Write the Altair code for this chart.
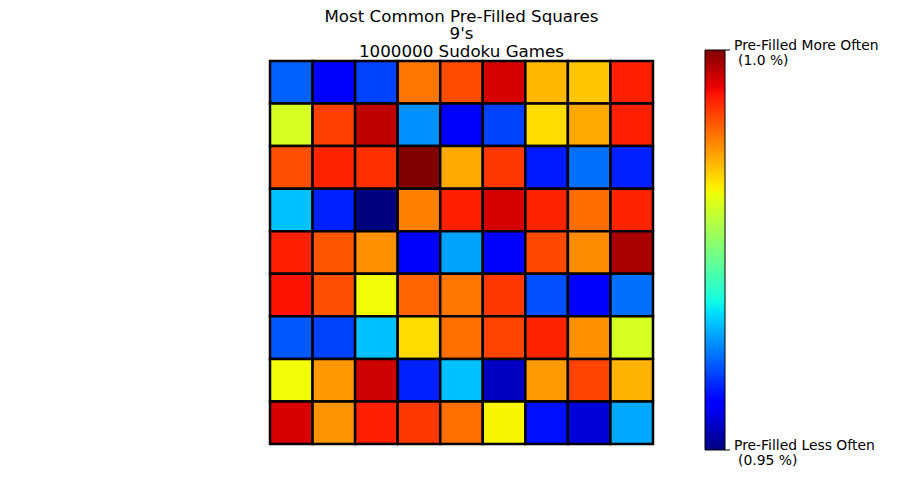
import altair as alt
import pandas as pd
import numpy as np

# Grid values (% of games where a 9 is pre-filled in that square)
row0 = [0.9610, 0.9560, 0.9595, 0.9892, 0.9915, 0.9963, 0.9858, 0.9850, 0.9938]
row1 = [0.9805, 0.9921, 0.9973, 0.9633, 0.9560, 0.9595, 0.9839, 0.9866, 0.9938]
row2 = [0.9913, 0.9936, 0.9930, 1.0000, 0.9866, 0.9926, 0.9575, 0.9618, 0.9578]
row3 = [0.9657, 0.9578, 0.9500, 0.9888, 0.9938, 0.9963, 0.9936, 0.9898, 0.9936]
row4 = [0.9938, 0.9909, 0.9879, 0.9560, 0.9643, 0.9562, 0.9917, 0.9881, 0.9982]
row5 = [0.9945, 0.9913, 0.9821, 0.9902, 0.9892, 0.9926, 0.9602, 0.9560, 0.9618]
row6 = [0.9606, 0.9595, 0.9657, 0.9839, 0.9896, 0.9919, 0.9936, 0.9879, 0.9805]
row7 = [0.9821, 0.9874, 0.9966, 0.9578, 0.9657, 0.9528, 0.9873, 0.9919, 0.9860]
row8 = [0.9962, 0.9877, 0.9938, 0.9926, 0.9896, 0.9825, 0.9570, 0.9539, 0.9645]
grid = [row0, row1, row2, row3, row4, row5, row6, row7, row8]

vmin, vmax = 0.95, 1.0
cbar_names = ["Pre-Filled Less Often", "Pre-Filled More Often"]
cbar_values = ["(0.95 %)", "(1.0 %)"]
title_lines = ["Most Common Pre-Filled Squares", "9's", "1000000 Sudoku Games"]

# jet colormap stops
jet_stops = [0, 0.11, 0.125, 0.34, 0.35, 0.375, 0.64, 0.65, 0.66, 0.89, 0.91, 1.0]
jet_colors = ["#000080", "#0000ff", "#0000ff", "#00dbff", "#00e5f7", "#15ffe2",
              "#eeff08", "#f7f500", "#ffec00", "#ff1300", "#e80000", "#800000"]
color_scale = alt.Scale(domain=[vmin + s * (vmax - vmin) for s in jet_stops],
                        range=jet_colors, interpolate="rgb")

cells = pd.DataFrame([
    {"row": r, "col": c, "row2": r + 1, "col2": c + 1, "value": grid[r][c]}
    for r in range(9) for c in range(9)
])

edges = np.linspace(vmin, vmax, 201)
cbar = pd.DataFrame({"v0": edges[:-1], "v1": edges[1:], "value": (edges[:-1] + edges[1:]) / 2})
ticks = pd.DataFrame({"v": [vmin, vmax], "name": cbar_names, "pct": cbar_values})

xs = alt.Scale(domain=[0, 9], range=[0, 383], nice=False, zero=False)
ys = alt.Scale(domain=[0, 9], range=[0, 383], nice=False, zero=False)
cys = alt.Scale(domain=[vmin, vmax], range=[389, -11], nice=False, zero=False)

heat = alt.Chart(cells).mark_rect(stroke="black", strokeWidth=2.5).encode(
    x=alt.X("col:Q", scale=xs, axis=None),
    x2="col2:Q",
    y=alt.Y("row:Q", scale=ys, axis=None),
    y2="row2:Q",
    color=alt.Color("value:Q", scale=color_scale, legend=None),
)

bar = alt.Chart(cbar).mark_rect().encode(
    x=alt.value(435), x2=alt.value(455),
    y=alt.Y("v0:Q", scale=cys, axis=None),
    y2="v1:Q",
    color=alt.Color("value:Q", scale=color_scale, legend=None),
)

outline = alt.Chart(ticks).mark_rect(filled=False, stroke="black", strokeWidth=1).encode(
    x=alt.value(435), x2=alt.value(455),
    y=alt.Y("min(v):Q", scale=cys, axis=None),
    y2="max(v):Q",
)

tick_rules = alt.Chart(ticks).mark_rule(color="black", strokeWidth=1).encode(
    x=alt.value(455), x2=alt.value(460),
    y=alt.Y("v:Q", scale=cys, axis=None),
)

name_text = alt.Chart(ticks).mark_text(
    align="left", baseline="middle", fontSize=13.9,
    font="DejaVu Sans", color="black", dy=-3.7,
).encode(
    x=alt.value(464),
    y=alt.Y("v:Q", scale=cys, axis=None),
    text="name:N",
)

pct_text = alt.Chart(ticks).mark_text(
    align="left", baseline="middle", fontSize=13.9,
    font="DejaVu Sans", color="black", dy=11,
).encode(
    x=alt.value(468),
    y=alt.Y("v:Q", scale=cys, axis=None),
    text="pct:N",
)

chart = alt.layer(heat, bar, outline, tick_rules, name_text, pct_text).resolve_scale(
    x="independent", y="independent"
).properties(
    width=455, height=383,
    padding={"left": 270, "top": 61, "right": 175, "bottom": 56},
    autosize=alt.AutoSizeParams(type="none"),
    title=alt.TitleParams(
        title_lines, fontSize=16.7, font="DejaVu Sans", fontWeight="normal",
        anchor="middle", frame="group", dx=-36, offset=-21.5, lineHeight=17.8, color="black",
    ),
).configure_view(stroke=None)

chart.save("out.html", embed_options={"renderer": "svg", "actions": False})
